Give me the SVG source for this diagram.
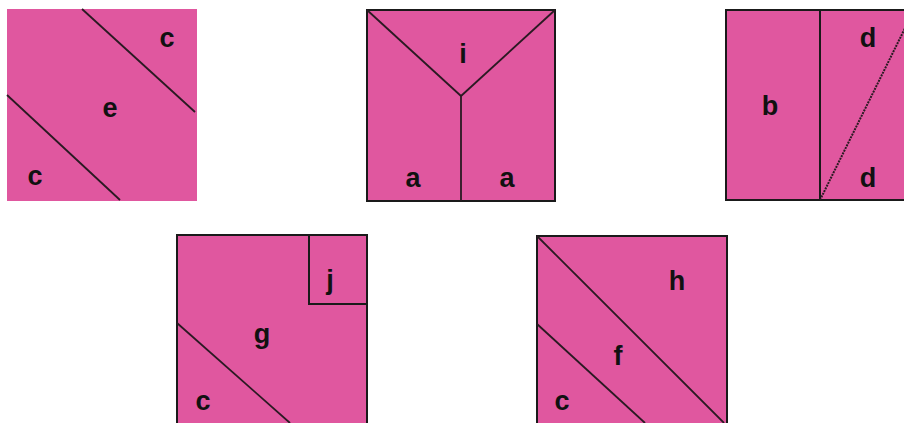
<svg xmlns="http://www.w3.org/2000/svg" width="904" height="423" viewBox="0 0 904 423">
<style>
.sq{fill:#E0579F;}
.bd{fill:none;stroke:#1a1a1a;stroke-width:2;}
.ln{fill:none;stroke:#2a1a22;stroke-width:1.8;}
.dt{fill:none;stroke:#2a1a22;stroke-width:2;stroke-dasharray:2 1;}
text{font-family:"Liberation Sans",Arial,sans-serif;font-weight:bold;font-size:27px;fill:#111;text-anchor:middle;}
</style>
<rect width="904" height="423" fill="#ffffff"/>
<g id="square1">
<rect class="sq" x="7" y="9" width="190" height="192"/>
<text x="167" y="47">c</text>
<text x="110" y="117">e</text>
<text x="35" y="185">c</text>
</g>
<g id="square2">
<rect class="sq" x="367" y="10" width="188" height="191"/>
<rect class="bd" x="367" y="10" width="188" height="191"/>
<text x="463" y="63">i</text>
<text x="413" y="187">a</text>
<text x="507" y="187">a</text>
</g>
<g id="square3">
<rect class="sq" x="726" y="10" width="190" height="190"/>
<rect class="bd" x="726" y="10" width="190" height="190"/>
<text x="770" y="115">b</text>
<text x="868" y="47">d</text>
<text x="868" y="187">d</text>
</g>
<g id="square4">
<rect class="sq" x="177" y="235" width="190" height="200"/>
<rect class="bd" x="177" y="235" width="190" height="200"/>
<rect class="bd" x="309" y="235" width="58" height="69"/>
<text x="330" y="289">j</text>
<text x="262" y="343">g</text>
<text x="203" y="410">c</text>
</g>
<g id="square5">
<rect class="sq" x="537" y="236" width="190" height="200"/>
<rect class="bd" x="537" y="236" width="190" height="200"/>
<text x="677" y="290">h</text>
<text x="618" y="365">f</text>
<text x="562" y="410">c</text>
</g>
<g id="connectors">
<line class="ln" x1="82" y1="9" x2="195" y2="112"/>
<line class="ln" x1="7" y1="95" x2="120" y2="200"/>
<line class="ln" x1="367" y1="10" x2="461" y2="96"/>
<line class="ln" x1="555" y1="10" x2="461" y2="96"/>
<line class="ln" x1="461" y1="96" x2="461" y2="201"/>
<line class="bd" x1="820" y1="10" x2="820" y2="200"/>
<line class="dt" x1="820" y1="200" x2="914" y2="10"/>
<line class="ln" x1="177" y1="323" x2="290" y2="423"/>
<line class="ln" x1="537" y1="236" x2="724" y2="423"/>
<line class="ln" x1="537" y1="324" x2="645" y2="423"/>
</g>
</svg>
